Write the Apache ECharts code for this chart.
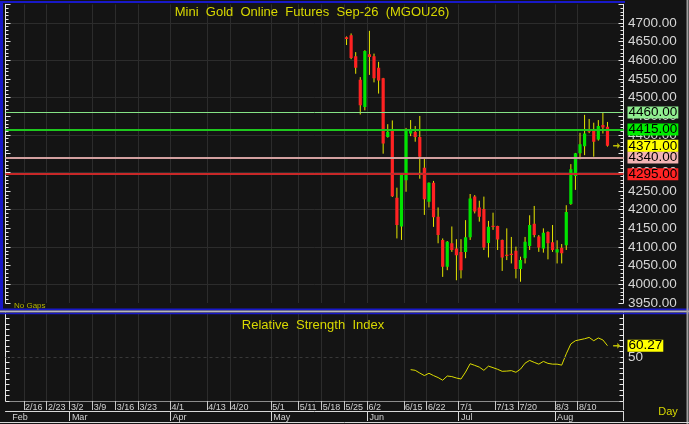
<!DOCTYPE html>
<html><head><meta charset="utf-8">
<script src="https://cdn.jsdelivr.net/npm/echarts@6/dist/echarts.min.js"></script>
<style>html,body{margin:0;padding:0;background:#141414;}#c{width:689px;height:424px;}</style>
</head><body><div id="c"></div>
<script>
// empty weekday slots before the data starts
const preDates = ['2/10','2/11','2/12','2/13',
 '2/16','2/17','2/18','2/19','2/20','2/23','2/24','2/25','2/26','2/27',
 '3/2','3/3','3/4','3/5','3/6','3/9','3/10','3/11','3/12','3/13',
 '3/16','3/17','3/18','3/19','3/20','3/23','3/24','3/25','3/26','3/27',
 '3/30','3/31','4/1','4/2','4/3','4/6','4/7','4/8','4/9','4/10',
 '4/13','4/14','4/15','4/16','4/17','4/20','4/21','4/22','4/23','4/24',
 '4/27','4/28','4/29','4/30','5/1','5/4','5/5','5/6','5/7','5/8',
 '5/11','5/12','5/13','5/14','5/15','5/18','5/19','5/20','5/21','5/22'];
const dates = ['5/25','5/26','5/27','5/28','5/29','6/2','6/3','6/4','6/5','6/8','6/9','6/10','6/11',
 '6/15','6/16','6/17','6/18','6/19','6/22','6/23','6/24','6/25','6/26','6/29','6/30',
 '7/1','7/2','7/3','7/6','7/7','7/8','7/9','7/10','7/13','7/14','7/15','7/16','7/17',
 '7/20','7/21','7/22','7/23','7/24','7/27','7/28','7/29','8/3','8/4','8/5','8/6','8/7',
 '8/10','8/11','8/12','8/13','8/14','8/17','8/18'];
const postDates = ['8/19','8/20','8/21'];
const opens  = [4662,4667,4611,4548,4475,4616,4611,4580,4552,4395,4414,4232,4155,4279,4404,4408,4395,4312,4221,4272,4181,4119,4047,4110,4096,4087,4087,4126,4235,4206,4202,4111,4157,4156,4119,4079,4082,4090,4041,4070,4103,4162,4128,4096,4140,4113,4085,4098,4105,4215,4290,4351,4370,4415,4413,4388,4427,4422];
const highs  = [4664,4672,4622,4555,4627,4679,4618,4596,4553,4429,4439,4259,4296,4419,4440,4424,4451,4340,4273,4277,4206,4123,4116,4155,4121,4121,4172,4242,4239,4224,4235,4170,4192,4157,4120,4150,4127,4101,4074,4127,4185,4210,4132,4150,4142,4159,4118,4108,4212,4322,4352,4406,4454,4443,4433,4440,4460,4435];
const lows   = [4641,4603,4564,4455,4466,4561,4541,4511,4350,4393,4234,4123,4119,4248,4397,4382,4283,4186,4206,4154,4110,4020,4038,4087,4011,4016,4070,4119,4190,4168,4092,4072,4146,4092,4036,4065,4056,4016,4007,4056,4092,4126,4087,4085,4067,4087,4056,4056,4092,4213,4253,4335,4346,4405,4342,4385,4404,4369];
const closes = [4657,4606,4580,4480,4625,4609,4552,4546,4377,4409,4236,4159,4295,4415,4416,4395,4342,4228,4272,4180,4132,4047,4114,4092,4078,4038,4126,4230,4195,4181,4099,4154,4154,4120,4072,4077,4080,4041,4065,4114,4159,4132,4099,4138,4110,4092,4094,4083,4194,4308,4351,4375,4404,4409,4382,4424,4420,4371];
const rsiFirstDate = '6/16';
const rsi = [38.5,37.9,35.4,33.1,35.2,33.1,31.3,28.9,32.7,32.2,30.9,30.0,36.3,43.9,42.4,40.8,37.9,41.7,40.3,38.8,37.0,37.2,37.6,36.1,39.0,44.4,46.9,45.1,43.5,46.0,44.2,43.5,43.5,42.6,52.9,61.9,64.8,65.7,66.6,67.8,64.8,67.3,65.5,60.27];
const tickDates = ['2/16','2/23','3/2','3/9','3/16','3/23','4/1','4/13','4/20','5/1','5/11','5/18','5/25','6/2','6/15','6/22','7/1','7/13','7/20','8/3','8/10'];
const monthDates = ['2/11','3/2','4/1','5/1','6/2','7/1','8/3'];
const monthNames = ['Feb','Mar','Apr','May','Jun','Jul','Aug'];
const levels = [4460, 4415, 4340, 4295];
const levelLine = ['#86e486', '#1ec81e', '#d2a0a0', '#c82828'];
const levelBox  = ['#90ee90', '#00ec00', '#f2b4b4', '#ff2424'];
const priceTicks = {min: 3950, max: 4750, step: 50};
const rsiTicks = {min: 10, max: 90, step: 5, label: 50};

const cats = preDates.concat(dates, postDates);
const off = preDates.length;
const candleData = dates.map((d, i) => [off + i, opens[i], closes[i], lows[i], highs[i]]);
const rsiOff = cats.indexOf(rsiFirstDate);
const rsiData = rsi.map((v, i) => [rsiOff + i, v]);
const lastClose = closes[closes.length - 1];
const lastRsi = rsi[rsi.length - 1];
const arrowIdx = cats.length - 2;
const tickSet = new Set(tickDates);
const FONT = "'Liberation Sans', Arial, sans-serif";
const CLEAR = 'rgba(0,0,0,0)';

function renderCandle(params, api) {
  const i = api.value(0);
  const o = api.value(1), c = api.value(2), l = api.value(3), h = api.value(4);
  const pO = api.coord([i, o]), pC = api.coord([i, c]);
  const pL = api.coord([i, l]), pH = api.coord([i, h]);
  const x = pO[0];
  const bw = 3.2;
  const top = Math.min(pO[1], pC[1]);
  const bot = Math.max(pO[1], pC[1]);
  return {
    type: 'group',
    children: [
      {type: 'line', shape: {x1: x, y1: pH[1], x2: x, y2: pL[1]}, style: {stroke: '#e6e600', lineWidth: 1}},
      {type: 'rect', shape: {x: x - bw / 2, y: top, width: bw, height: Math.max(bot - top, 1.2)},
       style: {fill: c >= o ? '#00e400' : '#ff2222'}}
    ]
  };
}

const arrowPath = 'path://M0,4 L6,4 L6,1 L10,5 L6,9 L6,6 L0,6 Z';
const boxLabel = {show: true, position: 'end', distance: 4, color: '#000', fontSize: 13.5, fontFamily: FONT,
                  padding: [0, 1, 0, 1], lineHeight: 12, formatter: p => Number(p.value).toFixed(2)};

const chart = echarts.init(document.getElementById('c'), null, {renderer: 'canvas'});
chart.setOption({
  animation: false,
  backgroundColor: '#141414',
  grid: [
    {left: 5.5, right: 65.5, top: 4.33, height: 298.7},
    {left: 5.5, right: 65.5, top: 313, height: 88}
  ],
  xAxis: [
    {gridIndex: 0, type: 'category', data: cats, boundaryGap: true,
     axisLine: {show: false}, axisTick: {show: false}, axisLabel: {show: false},
     splitLine: {show: true, interval: (i, v) => tickSet.has(v), lineStyle: {color: '#2c2c2c', width: 1}}},
    {gridIndex: 1, type: 'category', data: cats, boundaryGap: true, position: 'bottom',
     axisLine: {show: true, lineStyle: {color: '#8c8c8c', width: 1}},
     axisTick: {show: true, interval: (i, v) => tickSet.has(v), length: 9, lineStyle: {color: '#c8c8c8'}},
     axisLabel: {show: true, interval: (i, v) => tickSet.has(v), align: 'left', margin: 2,
                 fontSize: 9, color: '#d2d2d2', fontFamily: FONT, padding: [0, 0, 0, -1]},
     splitLine: {show: true, interval: (i, v) => tickSet.has(v), lineStyle: {color: '#2c2c2c', width: 1}}},
    {gridIndex: 1, type: 'category', data: cats, boundaryGap: true, position: 'bottom', offset: 10,
     axisLine: {show: true, lineStyle: {color: '#d8d8d8', width: 1}},
     axisTick: {show: true, interval: (i, v) => monthDates.indexOf(v) > 0, length: 10, lineStyle: {color: '#d8d8d8'}},
     axisLabel: {show: true, interval: (i, v) => monthDates.indexOf(v) >= 0, align: 'left', margin: 2,
                 fontSize: 9, color: '#d2d2d2', fontFamily: FONT,
                 formatter: v => monthNames[monthDates.indexOf(v)] || ''},
     splitLine: {show: false}}
  ],
  yAxis: [
    {gridIndex: 0, type: 'value', position: 'right', min: priceTicks.min, max: priceTicks.max, interval: priceTicks.step,
     axisLine: {show: true, lineStyle: {color: '#e8e8e8', width: 1}},
     axisTick: {show: true, inside: true, length: 5, lineStyle: {color: '#e8e8e8'}},
     minorTick: {show: true, splitNumber: 5, length: 3, lineStyle: {color: '#e8e8e8'}},
     axisLabel: {show: true, margin: 4.5, fontSize: 13.5, color: '#d6d6d6', fontFamily: FONT,
                 formatter: v => (v >= priceTicks.max ? '' : v.toFixed(2))},
     splitLine: {show: true, lineStyle: {color: [CLEAR, '#2c2c2c'], width: 1}}},
    {gridIndex: 0, type: 'value', position: 'left', min: priceTicks.min, max: priceTicks.max, interval: priceTicks.step,
     axisLine: {show: true, lineStyle: {color: '#e8e8e8', width: 1}},
     axisTick: {show: true, inside: true, length: 5, lineStyle: {color: '#e8e8e8'}},
     minorTick: {show: true, splitNumber: 5, length: 3, lineStyle: {color: '#e8e8e8'}},
     axisLabel: {show: false}, splitLine: {show: false}},
    {gridIndex: 1, type: 'value', position: 'right', min: rsiTicks.min, max: rsiTicks.max, interval: rsiTicks.step,
     axisLine: {show: true, lineStyle: {color: '#e8e8e8', width: 1}},
     axisTick: {show: true, inside: true, length: 4, lineStyle: {color: '#e8e8e8'}},
     axisLabel: {show: true, margin: 4.5, fontSize: 13.5, color: '#d6d6d6', fontFamily: FONT,
                 formatter: v => (v === rsiTicks.label ? String(v) : '')},
     splitLine: {show: false}},
    {gridIndex: 1, type: 'value', position: 'left', min: rsiTicks.min, max: rsiTicks.max, interval: rsiTicks.step,
     axisLine: {show: true, lineStyle: {color: '#e8e8e8', width: 1}},
     axisTick: {show: true, inside: true, length: 4, lineStyle: {color: '#e8e8e8'}},
     axisLabel: {show: false}, splitLine: {show: false}}
  ],
  series: [
    {type: 'custom', name: 'MGOU26', xAxisIndex: 0, yAxisIndex: 0, renderItem: renderCandle,
     encode: {x: 0, y: [1, 2, 3, 4]}, data: candleData, clip: true,
     markLine: {silent: true, symbol: 'none', animation: false, label: boxLabel,
       data: levels.map((v, k) => ({yAxis: v, lineStyle: {color: levelLine[k], width: k === 0 ? 1 : 2, type: 'solid'},
                                     label: {backgroundColor: levelBox[k]}}))
         .concat([{yAxis: lastClose, lineStyle: {color: CLEAR, width: 1}, label: {backgroundColor: '#ffff00'}}])}},
    {type: 'scatter', xAxisIndex: 0, yAxisIndex: 0, symbol: arrowPath, symbolSize: [7, 6],
     itemStyle: {color: '#e6e600'}, data: [[arrowIdx, lastClose]], silent: true},
    {type: 'line', name: 'RSI', xAxisIndex: 1, yAxisIndex: 2, data: rsiData, showSymbol: false,
     lineStyle: {color: '#dcdc00', width: 1}, itemStyle: {color: '#dcdc00'},
     markLine: {silent: true, symbol: 'none', animation: false, label: boxLabel,
       data: [
         {yAxis: rsiTicks.label, lineStyle: {color: '#383838', type: [3, 3], width: 1}, label: {show: false}},
         {yAxis: lastRsi, lineStyle: {color: CLEAR, width: 1}, label: {backgroundColor: '#ffff00'}}
       ]}},
    {type: 'scatter', xAxisIndex: 1, yAxisIndex: 2, symbol: arrowPath, symbolSize: [7, 6],
     itemStyle: {color: '#e6e600'}, data: [[arrowIdx, lastRsi]], silent: true}
  ],
  graphic: [
    {type: 'line', z: 50, shape: {x1: 0, y1: 2, x2: 625, y2: 2}, style: {stroke: '#1818c8', lineWidth: 2}},
    {type: 'line', z: 50, shape: {x1: 1.5, y1: 1, x2: 1.5, y2: 310}, style: {stroke: '#1818c8', lineWidth: 3}},
    {type: 'line', z: 50, shape: {x1: 0, y1: 309.5, x2: 689, y2: 309.5}, style: {stroke: '#1818c8', lineWidth: 2}},
    {type: 'line', z: 50, shape: {x1: 0, y1: 311.5, x2: 689, y2: 311.5}, style: {stroke: '#b8b8b8', lineWidth: 2}},
    {type: 'line', z: 50, shape: {x1: 0, y1: 313.5, x2: 689, y2: 313.5}, style: {stroke: '#1818c8', lineWidth: 1.5}},
    {type: 'line', z: 50, shape: {x1: 687.5, y1: 0, x2: 687.5, y2: 424}, style: {stroke: '#a0a0a0', lineWidth: 2}},
    {type: 'line', z: 50, shape: {x1: 0, y1: 422.5, x2: 689, y2: 422.5}, style: {stroke: '#d8d8d8', lineWidth: 1}},
    {type: 'text', z: 50, x: 312, y: 12, style: {text: 'Mini  Gold  Online  Futures  Sep-26  (MGOU26)',
      fill: '#d8d800', font: '13px ' + FONT, align: 'center', verticalAlign: 'middle'}},
    {type: 'text', z: 50, x: 313, y: 325, style: {text: 'Relative  Strength  Index',
      fill: '#d8d800', font: '13px ' + FONT, align: 'center', verticalAlign: 'middle'}},
    {type: 'text', z: 50, x: 14, y: 305.5, style: {text: 'No Gaps', fill: '#b4b400', font: '8px ' + FONT,
      align: 'left', verticalAlign: 'middle'}},
    {type: 'text', z: 50, x: 668, y: 412, style: {text: 'Day', fill: '#d8d800', font: '11px ' + FONT,
      align: 'center', verticalAlign: 'middle'}}
  ]
});
</script></body></html>
